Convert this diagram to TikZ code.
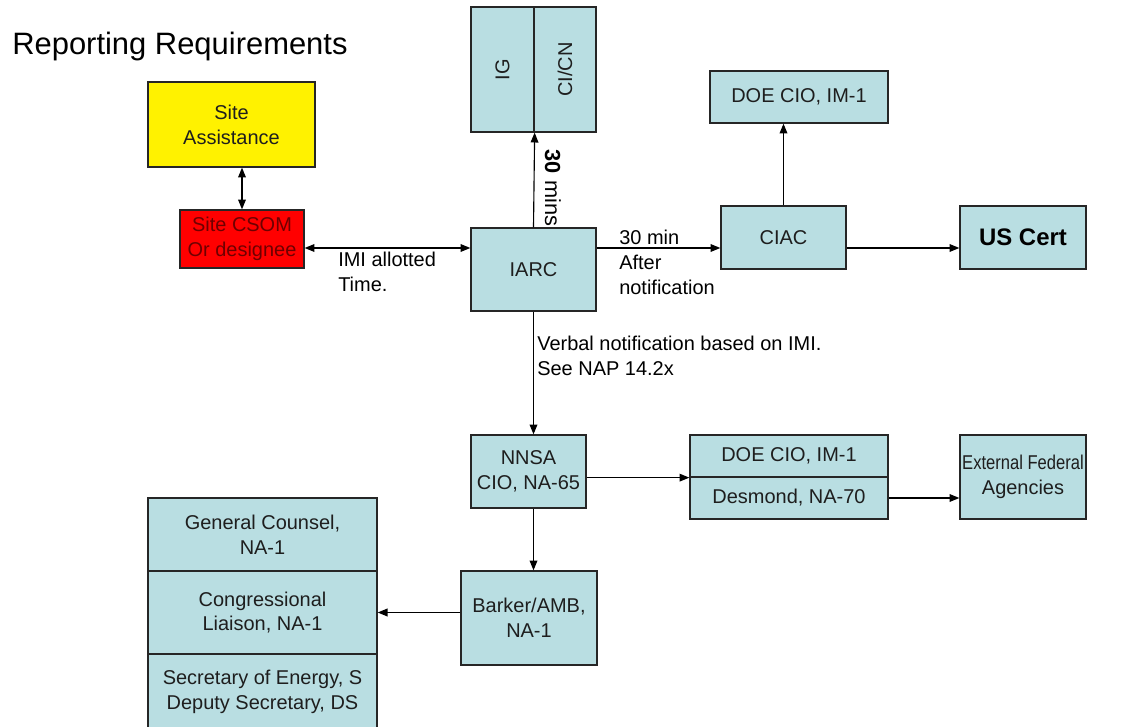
\documentclass[tikz,border=0pt]{standalone}
\usepackage{fontspec}
\setmainfont{Liberation Sans}
\usepackage{graphicx}
\usetikzlibrary{arrows.meta}
\definecolor{boxblue}{RGB}{185,222,226}
\definecolor{csomred}{RGB}{255,0,0}
\definecolor{csomtext}{RGB}{110,0,0}
\definecolor{boxtext}{RGB}{30,30,30}

\tikzset{
  box/.style={draw=black!85, line width=0.9pt, fill=boxblue, inner sep=0pt,
    align=center, text=boxtext, font=\fontsize{14.2}{17.7}\selectfont},
  lbl/.style={inner sep=0pt, align=left, anchor=north west,
    font=\fontsize{14.2}{17.7}\selectfont},
  link/.style={line width=0.8pt, -{Triangle[length=7pt,width=5.5pt]}},
  dlink/.style={line width=0.8pt,
    {Triangle[length=7pt,width=5.5pt]}-{Triangle[length=7pt,width=5.5pt]}},
}

\begin{document}
\begin{tikzpicture}[x=0.025cm,y=-0.025cm]
  \useasboundingbox (0,0) rectangle (1121,727);
  % titulo
  \node[anchor=base west, inner sep=0pt, font=\fontsize{22}{26}\selectfont] (title) at (12,55) {Reporting Requirements};
  % cajas del sitio
  \node[box, fill=yellow, minimum width=4.175cm, minimum height=2.125cm] (siteasst) at (231.5,124.5) {Site\\Assistance};
  \node[box, fill=csomred, text=csomtext, minimum width=3.1cm, minimum height=1.45cm] (sitecsom) at (242,239) {Site CSOM\\Or designee};
  % IARC y arriba
  \node[box, minimum width=3.125cm, minimum height=2.075cm] (iarc) at (533.5,269.5) {IARC};
  \node[box, minimum width=1.575cm, minimum height=3.125cm] (ig) at (502.5,69.5) {\rotatebox{90}{IG}};
  \node[box, minimum width=1.55cm, minimum height=3.125cm] (cicn) at (565,69.5) {\rotatebox{90}{CI/CN}};
  \node[box, minimum width=3.125cm, minimum height=1.575cm] (ciac) at (783.5,237.5) {CIAC};
  \node[box, minimum width=4.45cm, minimum height=1.3cm] (doetop) at (799,97) {DOE CIO, IM-1};
  \node[box, text=black, font=\fontsize{17}{20}\selectfont\bfseries, minimum width=3.15cm, minimum height=1.575cm] (uscert) at (1023,237.5) {US Cert};
  % parte de abajo
  \node[box, minimum width=2.875cm, minimum height=1.825cm] (nnsa) at (528.5,471.5) {NNSA\\CIO, NA-65};
  \node[box, minimum width=4.95cm, minimum height=1.05cm] (doecio) at (789,456) {DOE CIO, IM-1};
  \node[box, minimum width=4.95cm, minimum height=1.05cm] (desmond) at (789,498) {Desmond, NA-70};
  \node[box, minimum width=3.15cm, minimum height=2.1cm] (extfed) at (1023,477) {\scalebox{0.83}[1]{External Federal}\\Agencies};
  \node[box, minimum width=3.4cm, minimum height=2.35cm] (barker) at (529,618) {Barker/AMB,\\NA-1};
  \node[box, minimum width=5.725cm, minimum height=1.825cm] (gencoun) at (262.5,534.5) {General Counsel,\\NA-1};
  \node[box, minimum width=5.725cm, minimum height=2.075cm] (congress) at (262.5,612.5) {Congressional\\Liaison, NA-1};
  \node[box, minimum width=5.725cm, minimum height=1.9cm] (secy) at (262.5,692) {Secretary of Energy, S\\Deputy Secretary, DS};
  % flechas
  \coordinate (hrow) at (0,248);
  \draw[dlink] (sitecsom.north) -- (sitecsom.north |- siteasst.south);
  \draw[dlink] (sitecsom.east |- hrow) -- (iarc.west |- hrow);
  \draw[link] (iarc.north) -- (ig.south east);
  \draw[link] (iarc.east |- hrow) -- (ciac.west |- hrow);
  \draw[link] (ciac.east |- hrow) -- (uscert.west |- hrow);
  \draw[link] (ciac.north) -- (ciac.north |- doetop.south);
  \draw[link] (iarc.south) -- (iarc.south |- nnsa.north);
  \draw[link] (nnsa.east |- doecio.south west) -- (doecio.south west);
  \draw[link] (desmond.east) -- (extfed.west |- desmond.east);
  \draw[link] (iarc.south |- nnsa.south) -- (iarc.south |- barker.north);
  \draw[link] (barker.west |- congress.east) -- (congress.east);
  % etiquetas
  \node[lbl] (imilbl) at (338,252) {IMI allotted\\Time.};
  \node[lbl] (notiflbl) at (619,230) {30 min\\After\\notification};
  \node[lbl] (verballbl) at (537,336) {Verbal notification based on IMI.\\See NAP 14.2x};
  \node[rotate=-90, inner sep=0pt, font=\fontsize{15.5}{18}\selectfont] (minslbl) at (553,188) {\textbf{30} mins};
\end{tikzpicture}
\end{document}
